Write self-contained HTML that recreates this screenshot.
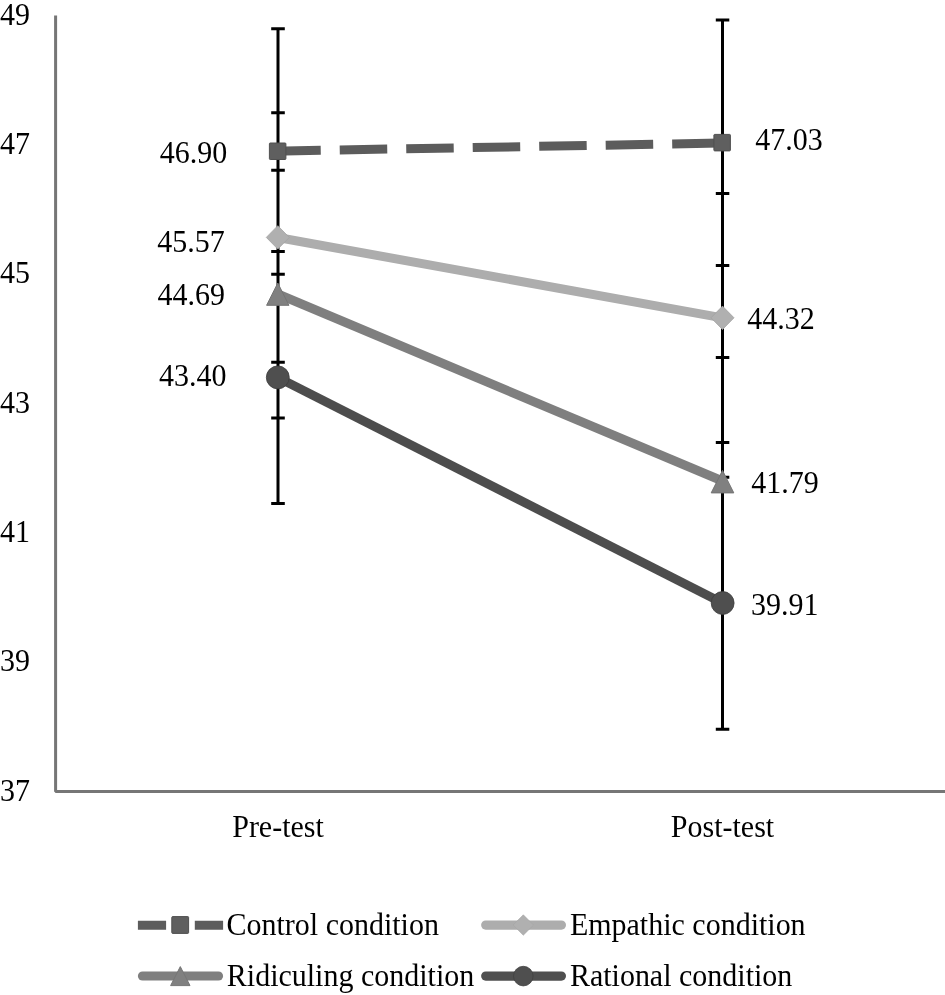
<!DOCTYPE html>
<html>
<head>
<meta charset="utf-8">
<title>Chart</title>
<style>
html,body{margin:0;padding:0;background:#fff;}
body{width:945px;height:995px;overflow:hidden;}
svg{display:block;will-change:transform;}
text{font-family:"Liberation Serif",serif;font-size:30px;fill:#000;}
</style>
</head>
<body>
<svg width="945" height="995" viewBox="0 0 945 995">
<rect width="945" height="995" fill="#fff"/>
<!-- axes -->
<path d="M55.6 15.4 V791.4 H945" fill="none" stroke="#767676" stroke-width="3" stroke-linejoin="bevel"/>
<!-- y axis labels -->
<text transform="translate(30.0 800.5) scale(1 1.055)" text-anchor="end">37</text>
<text transform="translate(30.0 671.2) scale(1 1.055)" text-anchor="end">39</text>
<text transform="translate(30.0 541.9) scale(1 1.055)" text-anchor="end">41</text>
<text transform="translate(30.0 412.6) scale(1 1.055)" text-anchor="end">43</text>
<text transform="translate(30.0 283.3) scale(1 1.055)" text-anchor="end">45</text>
<text transform="translate(30.0 154.0) scale(1 1.055)" text-anchor="end">47</text>
<text transform="translate(30.0 24.7) scale(1 1.055)" text-anchor="end">49</text>
<!-- error bars -->
<g stroke="#000" stroke-width="3" fill="none">
<path d="M278.0 28.8 V503.4"/>
<path d="M271.2 28.8h13.6 M271.2 112.7h13.6 M271.2 170.2h13.6 M271.2 251.4h13.6 M271.2 274.2h13.6 M271.2 362.2h13.6 M271.2 418h13.6 M271.2 503.4h13.6"/>
<path d="M722.5 20.1 V729.2"/>
<path d="M715.8 20.1h13.5 M715.8 193.4h13.5 M715.8 265.5h13.5 M715.8 357.5h13.5 M715.8 442.6h13.5 M715.8 477.2h13.5 M715.8 729.2h13.5"/>
</g>
<!-- series lines -->
<path d="M273.25 151.2 L723 143" stroke="#5c5c5c" stroke-width="9" stroke-dasharray="47.5 19" fill="none"/>
<path d="M277.8 237.5 L722.5 317.9" stroke="#adadad" stroke-width="9" fill="none"/>
<path d="M277.8 294 L722.5 481" stroke="#7f7f7f" stroke-width="9" fill="none"/>
<path d="M277.8 377.4 L722.6 603" stroke="#4d4d4d" stroke-width="9" fill="none"/>
<!-- markers -->
<rect x="269.4" y="143" width="16.5" height="16.5" rx="0.8" fill="#5f5f5f" stroke="#505050" stroke-width="1"/>
<rect x="713.9" y="134.4" width="16.5" height="16.5" rx="0.8" fill="#5f5f5f" stroke="#505050" stroke-width="1"/>
<path d="M266.3 237.4 L277.8 225.7 L289.3 237.4 L277.8 249.1 Z" fill="#b0b0b0" stroke="#a2a2a2" stroke-width="0.8"/>
<path d="M711 317.8 L722.5 306.1 L734 317.8 L722.5 329.5 Z" fill="#b0b0b0" stroke="#a2a2a2" stroke-width="0.8"/>
<path d="M277.8 283 L289 305.3 H266.6 Z" fill="#808080" stroke="#747474" stroke-width="1" stroke-linejoin="round"/>
<path d="M722.5 470.4 L733.8 492.9 H711.2 Z" fill="#808080" stroke="#747474" stroke-width="1" stroke-linejoin="round"/>
<circle cx="277.8" cy="377.4" r="11.45" fill="#4f4f4f" stroke="#3e3e3e" stroke-width="0.8"/>
<circle cx="722.65" cy="603" r="11.45" fill="#4f4f4f" stroke="#3e3e3e" stroke-width="0.8"/>
<!-- data labels -->
<text transform="translate(159.7 162.5) scale(1 1.055)">46.90</text>
<text transform="translate(157.3 252.2) scale(1 1.055)">45.57</text>
<text transform="translate(157.4 305.3) scale(1 1.055)">44.69</text>
<text transform="translate(159 385.5) scale(1 1.055)">43.40</text>
<text transform="translate(755.2 149.5) scale(1 1.055)">47.03</text>
<text transform="translate(747.3 329.3) scale(1 1.055)">44.32</text>
<text transform="translate(751.2 492.6) scale(1 1.055)">41.79</text>
<text transform="translate(751 615.2) scale(1 1.055)">39.91</text>
<!-- x labels -->
<text transform="translate(278 836.6) scale(1 1.055)" text-anchor="middle">Pre-test</text>
<text transform="translate(722.5 836.5) scale(1 1.055)" text-anchor="middle">Post-test</text>
<!-- legend -->
<path d="M137.9 925.2 H166.1 M194.8 925.2 H223.1" stroke="#5c5c5c" stroke-width="9.1" fill="none"/>
<rect x="171.8" y="916.6" width="16.8" height="16.8" rx="0.8" fill="#5f5f5f" stroke="#505050" stroke-width="1"/>
<text transform="translate(226.5 935.4) scale(1 1.055)">Control condition</text>
<path d="M485.7 925.1 H561.4" stroke="#adadad" stroke-width="9.2" stroke-linecap="round" fill="none"/>
<path d="M513.1 925 L523.3 914.8 L533.5 925 L523.3 935.2 Z" fill="#b0b0b0" stroke="#a4a4a4" stroke-width="0.6"/>
<text transform="translate(569.9 935.3) scale(1 1.055)">Empathic condition</text>
<path d="M142.5 976 H218.5" stroke="#7f7f7f" stroke-width="9.2" stroke-linecap="round" fill="none"/>
<path d="M180.3 966.6 L190 985.6 H170.6 Z" fill="#808080" stroke="#767676" stroke-width="1" stroke-linejoin="round"/>
<text transform="translate(226.8 986) scale(1 1.055)">Ridiculing condition</text>
<path d="M485.7 976.1 H561.4" stroke="#4f4f4f" stroke-width="9.2" stroke-linecap="round" fill="none"/>
<circle cx="523.3" cy="976.1" r="9.8" fill="#4f4f4f" stroke="#404040" stroke-width="0.8"/>
<text transform="translate(569.9 986) scale(1 1.055)">Rational condition</text>
</svg>
</body>
</html>
